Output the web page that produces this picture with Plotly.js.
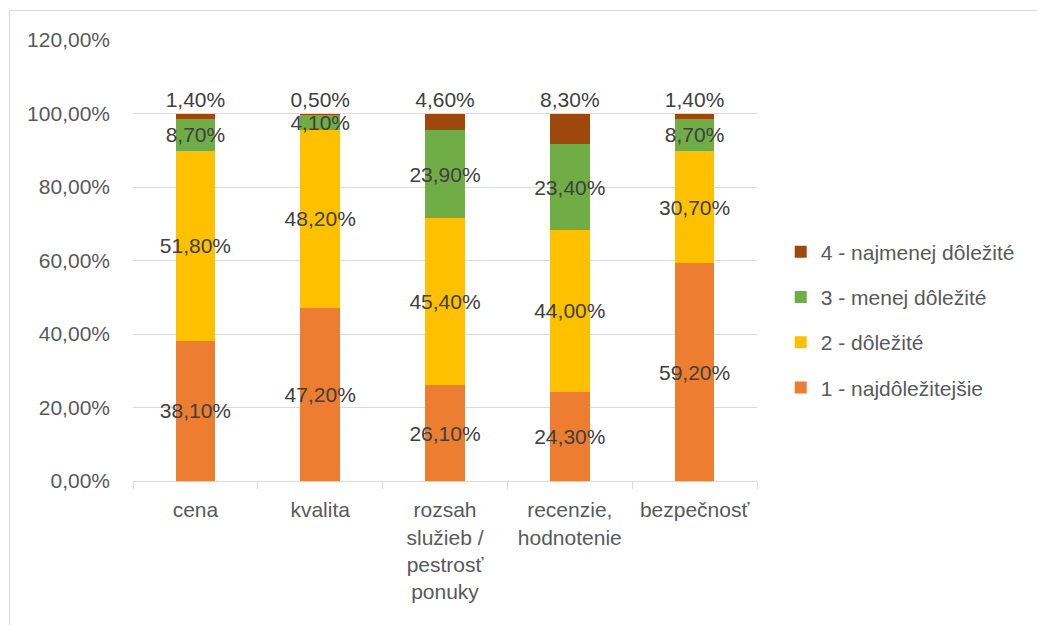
<!DOCTYPE html>
<html>
<head>
<meta charset="utf-8">
<script src="https://cdn.plot.ly/plotly-3.0.1.min.js"></script>
<style>
  html, body { margin: 0; padding: 0; background: #fff; }
  #wrap { position: relative; width: 1037px; height: 625px; }
  #chart { width: 1037px; height: 625px; }
  #frame {
    position: absolute; left: 9px; top: 10px; right: -2px; bottom: -2px;
    border-top: 1px solid #d9d9d9; border-left: 1px solid #d9d9d9;
    pointer-events: none;
  }
</style>
</head>
<body>
<div id="wrap">
  <div id="chart"></div>
  <div id="frame"></div>
</div>
<script>
// Categories (axis labels) and shares per importance level, in percent
const categories = ["cena", "kvalita", "rozsah<br>služieb /<br>pestrosť<br>ponuky", "recenzie,<br>hodnotenie", "bezpečnosť"];
const level1 = [38.1, 47.2, 26.1, 24.3, 59.2];   // 1 - najdôležitejšie
const level2 = [51.8, 48.2, 45.4, 44.0, 30.7];   // 2 - dôležité
const level3 = [8.7, 4.1, 23.9, 23.4, 8.7];      // 3 - menej dôležité
const level4 = [1.4, 0.5, 4.6, 8.3, 1.4];        // 4 - najmenej dôležité
const seriesNames = ["1 - najdôležitejšie", "2 - dôležité", "3 - menej dôležité", "4 - najmenej dôležité"];
const yTicks = [0, 20, 40, 60, 80, 100, 120];

const FONT = "Liberation Sans, Arial, sans-serif";
const colors = ["#ED7D31", "#FFC000", "#70AD47", "#9E480E"];

// Slovak-style percentage: two decimals, comma separator
const pct = v => v.toFixed(2).replace(".", ",") + "%";

const seriesValues = [level1, level2, level3, level4];
const traces = seriesValues.map((vals, i) => ({
  type: "bar",
  name: seriesNames[i],
  legendgroup: "g" + i,
  legendrank: 10 - i,           // least important level listed first
  x: categories,
  y: vals,
  marker: { color: colors[i], line: { width: 0 } },
  text: vals.map(pct),
  textposition: i === 3 ? "outside" : "inside",
  insidetextanchor: "middle",
  textangle: 0,
  constraintext: "none",
  cliponaxis: false,
  textfont: { family: FONT, size: 21, color: "#404040" },
  insidetextfont: { family: FONT, size: 21, color: "#404040" },
  outsidetextfont: { family: FONT, size: 21, color: "#404040" },
  hoverinfo: "skip"
}));

const layout = {
  width: 1037,
  height: 625,
  margin: { l: 133, r: 280, t: 40, b: 144 },
  paper_bgcolor: "#ffffff",
  plot_bgcolor: "#ffffff",
  barmode: "stack",
  bargap: 0.683,
  font: { family: FONT, size: 21, color: "#595959" },
  xaxis: {
    type: "category",
    showline: true,
    linecolor: "#d9d9d9",
    linewidth: 1,
    ticks: "outside",
    tickson: "boundaries",
    ticklen: 7,
    tickcolor: "#d9d9d9",
    ticklabelstandoff: 10,
    showgrid: false,
    tickfont: { family: FONT, size: 21, color: "#595959" },
    fixedrange: true
  },
  yaxis: {
    range: [0, 120],
    tickvals: yTicks,
    ticktext: yTicks.map(pct),
    showgrid: true,
    gridcolor: "#d9d9d9",
    gridwidth: 1,
    zeroline: false,
    showline: false,
    ticks: "",
    ticklabelstandoff: 22,
    tickfont: { family: FONT, size: 21, color: "#595959" },
    fixedrange: true
  },
  legend: {
    x: 1.038,
    xanchor: "left",
    y: 0.365,
    yanchor: "middle",
    traceorder: "grouped",
    tracegroupgap: 15,
    font: { family: FONT, size: 21, color: "#595959" },
    bgcolor: "rgba(0,0,0,0)"
  },
  showlegend: true
};

Plotly.newPlot("chart", traces, layout, { displayModeBar: false, staticPlot: true });
</script>
</body>
</html>
